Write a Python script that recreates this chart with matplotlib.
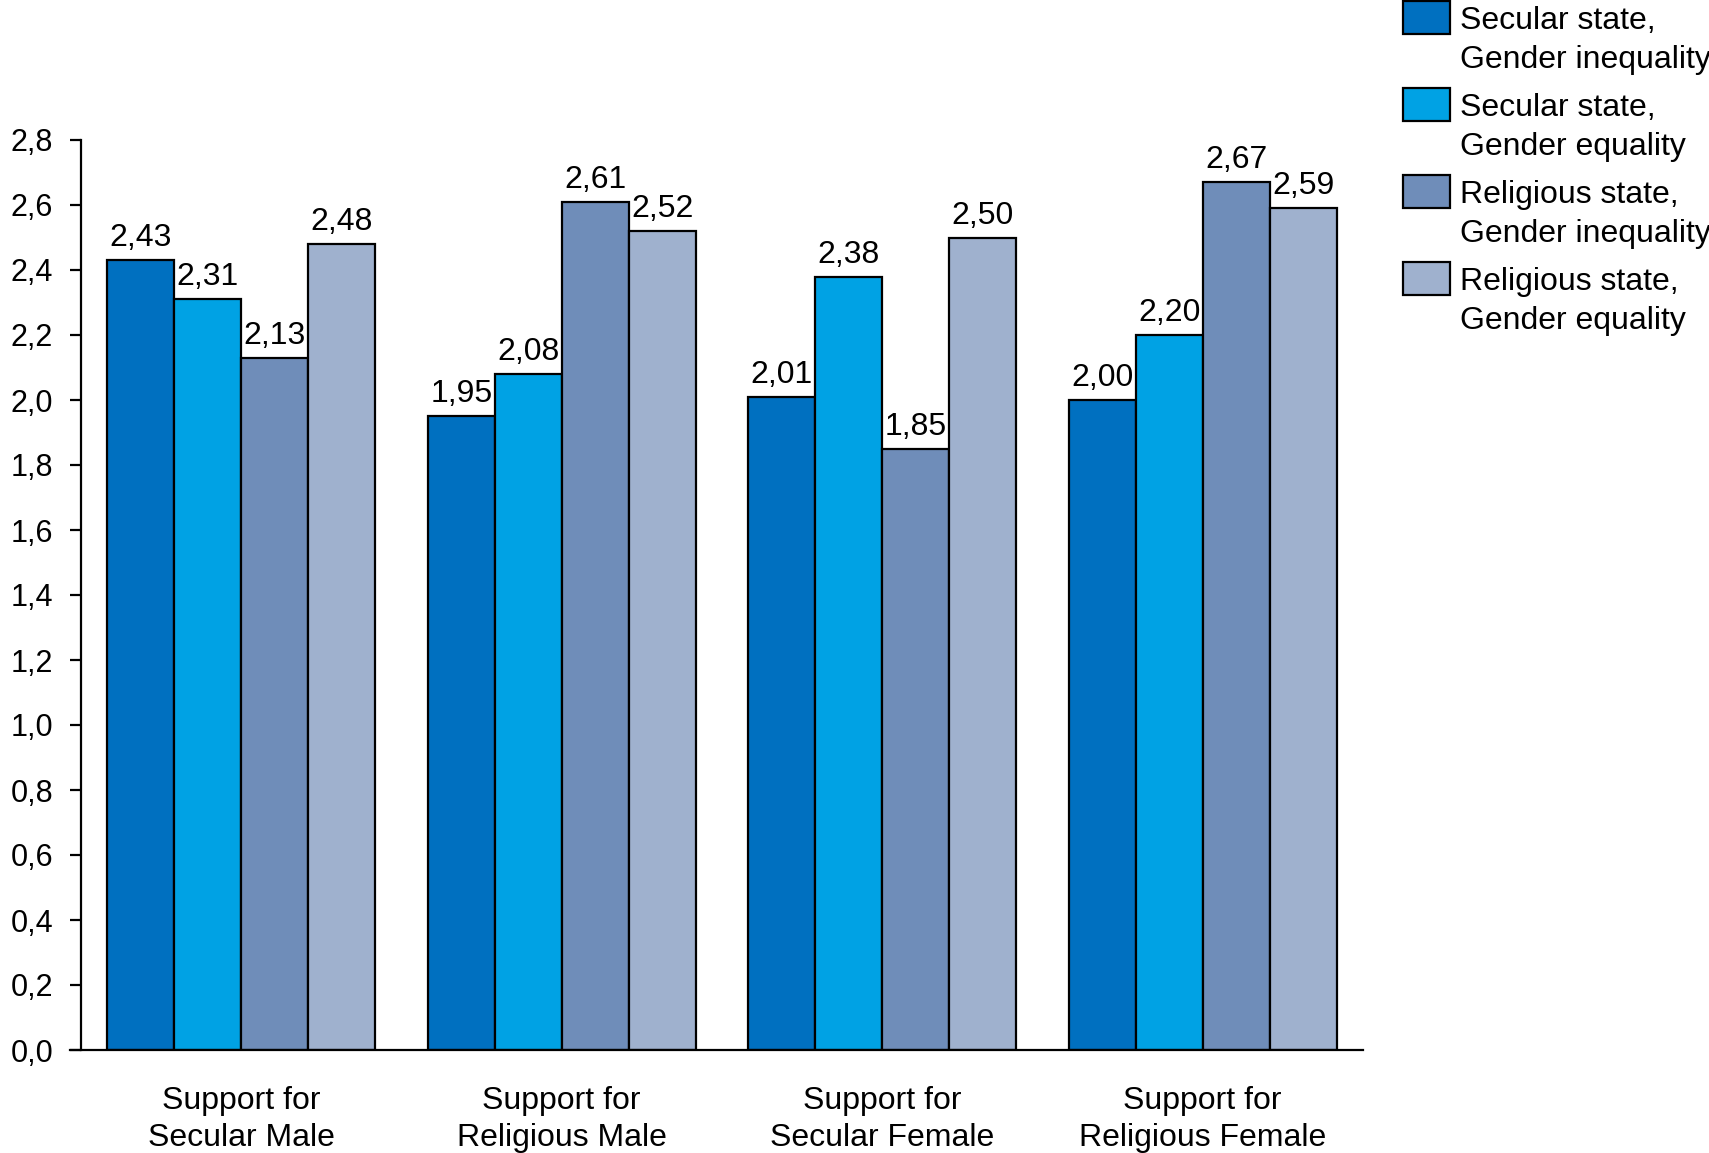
import matplotlib.pyplot as plt
from matplotlib.patches import Rectangle
import numpy as np

plt.rcParams['font.family'] = ['Liberation Sans', 'DejaVu Sans']

categories = ['Support for\nSecular Male', 'Support for\nReligious Male',
              'Support for\nSecular Female', 'Support for\nReligious Female']
series_names = ['Secular state,\nGender inequality', 'Secular state,\nGender equality',
                'Religious state,\nGender inequality', 'Religious state,\nGender equality']
sec_ineq = [2.43, 1.95, 2.01, 2.00]
sec_eq = [2.31, 2.08, 2.38, 2.20]
rel_ineq = [2.13, 2.61, 1.85, 2.67]
rel_eq = [2.48, 2.52, 2.50, 2.59]
yticks = np.arange(0, 2.81, 0.2)

colors = ['#0070C0', '#00A2E4', '#6F8DB9', '#9FB1CE']
series = [sec_ineq, sec_eq, rel_ineq, rel_eq]

W, H = 1709, 1153
fig = plt.figure(figsize=(W / 100, H / 100), dpi=100)
ax = fig.add_axes([81 / W, 1 - 1050 / H, (1363 - 81) / W, 910 / H])

x = np.arange(len(categories))
bw = 0.209
for i, (vals, c) in enumerate(zip(series, colors)):
    pos = x + (i - 1.5) * bw
    ax.bar(pos, vals, width=bw, color=c, edgecolor='black', linewidth=1.6, zorder=2)
    for px, v in zip(pos, vals):
        ax.annotate(f'{v:.2f}'.replace('.', ','), (px, v), xytext=(0, 10),
                    textcoords='offset points', ha='center', va='baseline', fontsize=23)

ax.set_xlim(-0.5, 3.5)
ax.set_ylim(0, 2.8)
ax.set_yticks(yticks)
ax.set_yticklabels([f'{t:.1f}'.replace('.', ',') for t in yticks])
ax.set_xticks(x)
ax.set_xticklabels(categories, fontsize=23, linespacing=1.32)
ax.tick_params(axis='x', length=0, pad=26)
ax.tick_params(axis='y', length=8, width=1.6, pad=12, labelsize=22, direction='out')
for s in ['top', 'right']:
    ax.spines[s].set_visible(False)
for s in ['left', 'bottom']:
    ax.spines[s].set_linewidth(1.6)
ax.spines['bottom'].set_bounds(-0.535, 3.5)

# legend drawn by hand so the swatch lines up with the first text line
for i, (name, c) in enumerate(zip(series_names, colors)):
    top = 1 + 87 * i
    fig.add_artist(Rectangle((1403 / W, 1 - (top + 33) / H), 47 / W, 33 / H,
                             facecolor=c, edgecolor='black', linewidth=1.6,
                             transform=fig.transFigure))
    fig.text(1460 / W, 1 - (top + 5) / H, name, fontsize=23, va='top', ha='left',
             linespacing=1.38)

fig.savefig('out.png', dpi=100)
